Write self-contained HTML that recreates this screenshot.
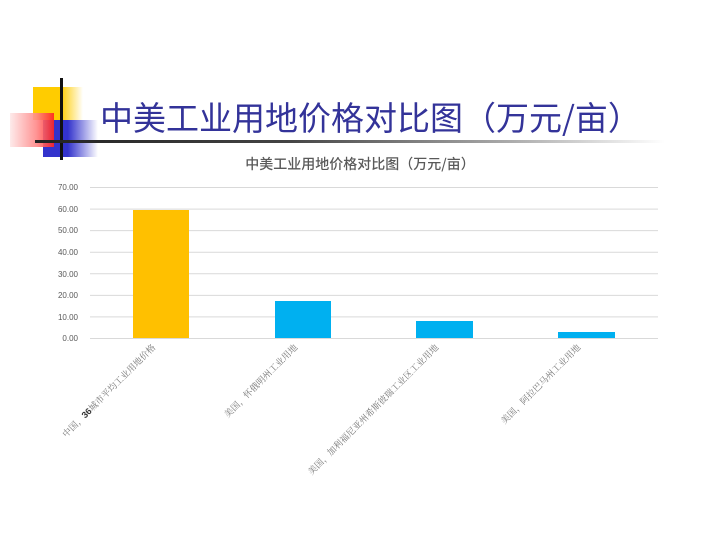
<!DOCTYPE html>
<html><head><meta charset="utf-8"><style>
body{margin:0;width:720px;height:540px;background:#fff;overflow:hidden;position:relative;font-family:"Liberation Sans","Noto Sans CJK SC",sans-serif}
.a{position:absolute}
</style></head><body>
<div class="a" style="left:33px;top:87px;width:50px;height:33px;background:linear-gradient(to right,#ffcc00 0,#ffcc00 55%,#fff 100%)"></div>
<div class="a" style="left:43px;top:120px;width:55px;height:37px;background:linear-gradient(to right,#3333cc 0,#3333cc 45%,#fff 100%)"></div>
<div class="a" style="left:10px;top:113px;width:44px;height:34px;background:linear-gradient(to right,#fde8e8 0,#f88 60%,#f22 100%);opacity:.9"></div>
<div class="a" style="left:60px;top:78px;width:3px;height:82px;background:#111"></div>
<div class="a" style="left:35px;top:140px;width:630px;height:3px;background:linear-gradient(to right,#222 0,#444 40%,#aaa 75%,#fff 100%)"></div>
<div class="a" style="left:100px;top:96px;font-size:33px;color:#333399;font-family:'Noto Sans CJK SC',sans-serif;line-height:40px;white-space:nowrap">中美工业用地价格对比图（万元/亩）</div>
<div class="a" style="left:0;width:720px;top:154px;text-align:center;font-size:14px;color:#595959;font-weight:500;font-family:'Noto Sans CJK SC',sans-serif">中美工业用地价格对比图（万元/亩）</div>
<svg class="a" style="left:0;top:0" width="720" height="540">
<g stroke="#d9d9d9" stroke-width="1">
<line x1="90" x2="658" y1="187.5" y2="187.5"/><line x1="90" x2="658" y1="209.1" y2="209.1"/><line x1="90" x2="658" y1="230.6" y2="230.6"/><line x1="90" x2="658" y1="252.2" y2="252.2"/><line x1="90" x2="658" y1="273.8" y2="273.8"/><line x1="90" x2="658" y1="295.4" y2="295.4"/><line x1="90" x2="658" y1="316.9" y2="316.9"/><line x1="90" x2="658" y1="338.5" y2="338.5"/>
</g>
<g font-size="8" fill="#595959" text-anchor="end" font-family="Liberation Sans,sans-serif">
<text x="78" y="190">70.00</text><text x="78" y="212">60.00</text><text x="78" y="233">50.00</text><text x="78" y="255">40.00</text><text x="78" y="277">30.00</text><text x="78" y="298">20.00</text><text x="78" y="320">10.00</text><text x="78" y="341">0.00</text>
</g>
<rect x="133" y="210" width="56" height="128" fill="#ffc000"/>
<rect x="275" y="301" width="56" height="37" fill="#00b0f0"/>
<rect x="416" y="321" width="57" height="17" fill="#00b0f0"/>
<rect x="558" y="332" width="57" height="6" fill="#00b0f0"/>
<g font-size="9" fill="#777" text-anchor="end" font-family="Liberation Serif,'Noto Serif CJK SC',serif">
<text transform="translate(156,348) rotate(-45)">中国，<tspan font-weight="bold" fill="#333" font-family="Liberation Sans,sans-serif">36</tspan>城市平均工业用地价格</text>
<text transform="translate(298,348) rotate(-45)">美国，怀俄明州工业用地</text>
<text transform="translate(439,348) rotate(-45)">美国，加利福尼亚州希斯彼瑞工业区工业用地</text>
<text transform="translate(581,348) rotate(-45)">美国，阿拉巴马州工业用地</text>
</g>
</svg>
</body></html>
